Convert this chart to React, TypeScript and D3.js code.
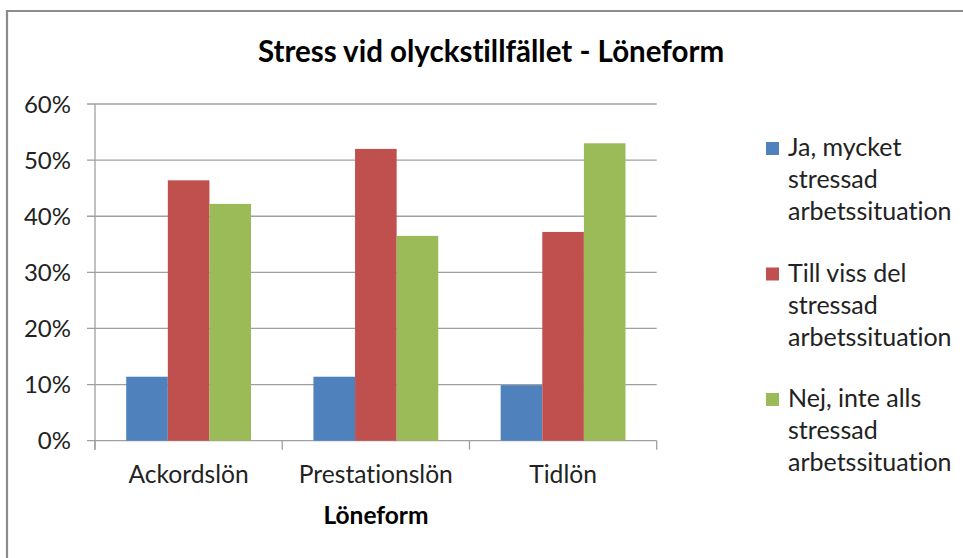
import React from "react";
import * as d3 from "d3";

const categories = ["Ackordslön", "Prestationslön", "Tidlön"];
const seriesNames = [
  "Ja, mycket stressad arbetssituation",
  "Till viss del stressad arbetssituation",
  "Nej, inte alls stressad arbetssituation",
];
const legendLines = [
  ["Ja, mycket", "stressad", "arbetssituation"],
  ["Till viss del", "stressad", "arbetssituation"],
  ["Nej, inte alls", "stressad", "arbetssituation"],
];
const jaValues = [0.114, 0.114, 0.099];
const tillValues = [0.464, 0.52, 0.372];
const nejValues = [0.422, 0.365, 0.53];
const yTicks = [0, 0.1, 0.2, 0.3, 0.4, 0.5, 0.6];
const colors = ["#4F81BD", "#C0504D", "#9BBB59"];
const title = "Stress vid olyckstillfället - Löneform";
const xTitle = "Löneform";

const W = 963;
const H = 558;
const FONT = "Lato, 'Open Sans', sans-serif";

export default function App() {
  const plot = { left: 95, right: 656.7, top: 104, bottom: 440.7 };
  const series = [jaValues, tillValues, nejValues];
  const x = d3.scaleBand<string>().domain(categories).range([plot.left, plot.right]).padding(0);
  const catW = x.bandwidth();
  const gap = (catW / 4.5) * 1.5;
  const xs = d3
    .scaleBand<number>()
    .domain(d3.range(series.length))
    .range([gap / 2, catW - gap / 2])
    .padding(0);
  const y = d3.scaleLinear().domain([0, 0.6]).range([plot.bottom, plot.top]);
  const fmt = d3.format(".0%");
  const grid = "#A0A0A0";
  const boundaries = categories.map((c) => x(c) as number).concat([plot.right]);

  return (
    <svg
      width={W}
      height={H}
      style={{ position: "absolute", left: 0, top: 0, background: "#fff", fontVariantLigatures: "none" }}
      fontFamily={FONT}
    >
      <rect x={0} y={0} width={W} height={H} fill="#fff" />
      <path d={`M7,${H + 5} V11 H${W + 5}`} fill="none" stroke="#8C8C8C" strokeWidth={2.2} />
      <text x={491} y={62} textAnchor="middle" fontSize={29.5} fontWeight="bold" fill="#000">
        {title}
      </text>
      {yTicks.map((t) => (
        <g key={t}>
          <line x1={87} x2={plot.right} y1={y(t)} y2={y(t)} stroke={grid} strokeWidth={1.3} />
          <text x={71} y={y(t)} dy="0.36em" textAnchor="end" fontSize={24} fill="#222">
            {fmt(t)}
          </text>
        </g>
      ))}
      <line x1={plot.left} x2={plot.left} y1={plot.top} y2={plot.bottom + 9} stroke={grid} strokeWidth={1.3} />
      {boundaries.map((b, i) => (
        <line key={i} x1={b} x2={b} y1={plot.bottom} y2={plot.bottom + 9} stroke={grid} strokeWidth={1.3} />
      ))}
      {categories.map((c, ci) =>
        series.map((vals, si) => (
          <rect
            key={c + si}
            x={(x(c) as number) + (xs(si) as number)}
            y={y(vals[ci])}
            width={xs.bandwidth()}
            height={plot.bottom - y(vals[ci])}
            fill={colors[si]}
          >
            <title>{seriesNames[si]}</title>
          </rect>
        ))
      )}
      {categories.map((c) => (
        <text key={c} x={(x(c) as number) + catW / 2} y={483} textAnchor="middle" fontSize={24.6} fill="#222">
          {c}
        </text>
      ))}
      <text x={376} y={524} textAnchor="middle" fontSize={24.5} fontWeight="bold" fill="#000">
        {xTitle}
      </text>
      {legendLines.map((lines, i) => {
        const base = 156 + i * 125.5;
        return (
          <g key={i}>
            <rect x={766} y={base - 14} width={13} height={13} fill={colors[i]} />
            {lines.map((l, j) => (
              <text key={j} x={788} y={base + j * 32} fontSize={25} fill="#222">
                {l}
              </text>
            ))}
          </g>
        );
      })}
    </svg>
  );
}
